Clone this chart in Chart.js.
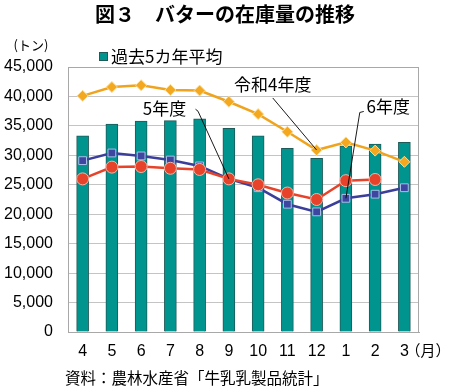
<!DOCTYPE html>
<html lang="ja">
<head>
<meta charset="utf-8">
<script src="https://cdn.jsdelivr.net/npm/chart.js@4/dist/chart.umd.min.js"></script>
<style>
  html, body { margin: 0; padding: 0; background: #ffffff; }
  #wrap { position: relative; width: 450px; height: 388px; }
  canvas { display: block; }
</style>
</head>
<body>
<div id="wrap"><canvas id="c" width="450" height="388"></canvas></div>
<script>
// ---- data ----
const months = ['4', '5', '6', '7', '8', '9', '10', '11', '12', '1', '2', '3'];
const avg5yr = [33300, 35300, 35800, 35900, 36200, 34600, 33300, 31200, 29500, 31600, 31900, 32200];
const fyR4   = [40100, 41600, 41900, 41100, 41000, 39100, 37000, 34000, 30900, 32200, 30800, 28900];
const fyR5   = [29100, 30400, 29900, 29200, 28200, 26000, 24500, 21700, 20400, 22700, 23400, 24500];
const fyR6   = [26000, 28000, 28100, 27800, 27600, 26000, 25000, 23600, 22500, 25700, 25900, null];
const yTicks = [0, 5000, 10000, 15000, 20000, 25000, 30000, 35000, 40000, 45000];

const titleText  = '図３　バターの在庫量の推移';
const legendText = '過去5カ年平均';
const unitY = '(トン)';
const unitX = '（月）';
const sourceText = '資料：農林水産省「牛乳乳製品統計」';

const JP = '"Noto Sans CJK JP", "Noto Sans", sans-serif';
const NUM = '"Liberation Sans", Arial, sans-serif';

const gridColor = '#c4c4c4';

// annotation callouts: label anchored in data space, leader to a data point
const callouts = [
  { text: '令和4年度', at: [6.5, 41950], from: [0, 13], ds: 1, idx: 8, bend: null },
  { text: '5年度',     at: [2.8, 38000], from: [31, 1], ds: 3, idx: 5, bend: [33.5, 3] },
  { text: '6年度',     at: [10.45, 38300], from: [-24.5, 5], ds: 2, idx: 9, bend: [-28.5, 6] }
];

const decor = {
  id: 'decor',
  beforeDatasetsDraw(chart) {
    const { ctx, chartArea: a } = chart;
    ctx.save();
    ctx.strokeStyle = '#a8a8a8';
    ctx.lineWidth = 1;
    ctx.strokeRect(Math.round(a.left) + 0.5, Math.round(a.top) + 0.5,
                   Math.round(a.right - a.left) - 1, Math.round(a.bottom - a.top));
    ctx.restore();
  },
  afterDraw(chart) {
    const { ctx, chartArea: a, scales } = chart;
    ctx.save();
    ctx.fillStyle = '#000';
    ctx.textBaseline = 'middle';
    // title
    ctx.font = 'bold 20px ' + JP;
    ctx.textAlign = 'center';
    ctx.fillText(titleText, 225, 14);
    // legend
    ctx.fillStyle = '#00948f';
    ctx.fillRect(99, 52, 9, 9);
    ctx.strokeStyle = '#1e5a57';
    ctx.lineWidth = 1;
    ctx.strokeRect(99.5, 52.5, 8, 8);
    ctx.fillStyle = '#000';
    ctx.font = '17px ' + JP;
    ctx.textAlign = 'left';
    ctx.fillText(legendText, 111, 57);
    // units
    ctx.font = '13px ' + JP;
    ctx.textAlign = 'center';
    ctx.fillText(unitY, 31, 45);
    ctx.font = '15px ' + JP;
    ctx.fillText(unitX, 428, 350);
    // source
    ctx.font = '15.5px ' + JP;
    ctx.textAlign = 'left';
    ctx.fillText(sourceText, 65, 378);
    // callouts
    ctx.font = '17px ' + JP;
    ctx.textAlign = 'center';
    ctx.strokeStyle = '#000';
    ctx.lineWidth = 0.9;
    callouts.forEach(c => {
      const lx = scales.x.getPixelForValue(c.at[0]);
      const ly = scales.y.getPixelForValue(c.at[1]);
      ctx.fillText(c.text, lx, ly);
      const pt = chart.getDatasetMeta(c.ds).data[c.idx];
      ctx.beginPath();
      ctx.moveTo(lx + c.from[0], ly + c.from[1]);
      if (c.bend) ctx.lineTo(lx + c.bend[0], ly + c.bend[1]);
      ctx.lineTo(pt.x, pt.y);
      ctx.stroke();
    });
    ctx.restore();
  }
};

new Chart(document.getElementById('c'), {
  data: {
    labels: months,
    datasets: [
      {
        type: 'bar', label: legendText, data: avg5yr, order: 10,
        backgroundColor: '#00948f', borderColor: '#1e5a57', borderWidth: 1,
        barThickness: 12
      },
      {
        type: 'line', label: '令和4年度', data: fyR4, order: 3,
        borderColor: '#f0a41e', borderWidth: 2.5,
        pointStyle: 'rectRot', pointRadius: 5.5,
        pointBackgroundColor: '#f3a81f', pointBorderColor: '#fbdc93', pointBorderWidth: 1
      },
      {
        type: 'line', label: '5年度', data: fyR5, order: 2,
        borderColor: '#3c3f9a', borderWidth: 2.5,
        pointStyle: 'rect', pointRadius: 5.5,
        pointBackgroundColor: '#3d47a0', pointBorderColor: '#a9bde9', pointBorderWidth: 1
      },
      {
        type: 'line', label: '6年度', data: fyR6, order: 1,
        borderColor: '#e6432a', borderWidth: 2.5,
        pointStyle: 'circle', pointRadius: 6,
        pointBackgroundColor: '#e6432a', pointBorderColor: '#f8b4a6', pointBorderWidth: 1,
        spanGaps: false
      }
    ]
  },
  options: {
    responsive: false,
    animation: false,
    devicePixelRatio: 1,
    layout: { padding: { top: 67, right: 31, left: 0, bottom: 0 } },
    plugins: { legend: { display: false }, title: { display: false }, tooltip: { enabled: false } },
    scales: {
      x: {
        type: 'category',
        offset: true,
        grid: { display: false, drawTicks: false },
        border: { display: true, color: '#a8a8a8' },
        ticks: { color: '#000', font: { family: NUM, size: 16 }, padding: 10, maxRotation: 0, autoSkip: false },
        afterFit(s) { s.height = 56; }
      },
      y: {
        min: 0, max: 45000,
        afterBuildTicks(s) { s.ticks = yTicks.map(v => ({ value: v })); },
        grid: { color: gridColor, lineWidth: 1, drawTicks: false },
        border: { display: true, color: '#a8a8a8' },
        ticks: {
          color: '#000', font: { family: NUM, size: 16 }, padding: 15,
          callback: v => v.toLocaleString('en-US')
        },
        afterFit(s) { s.width = 68; }
      }
    }
  },
  plugins: [decor]
});
</script>
</body>
</html>
